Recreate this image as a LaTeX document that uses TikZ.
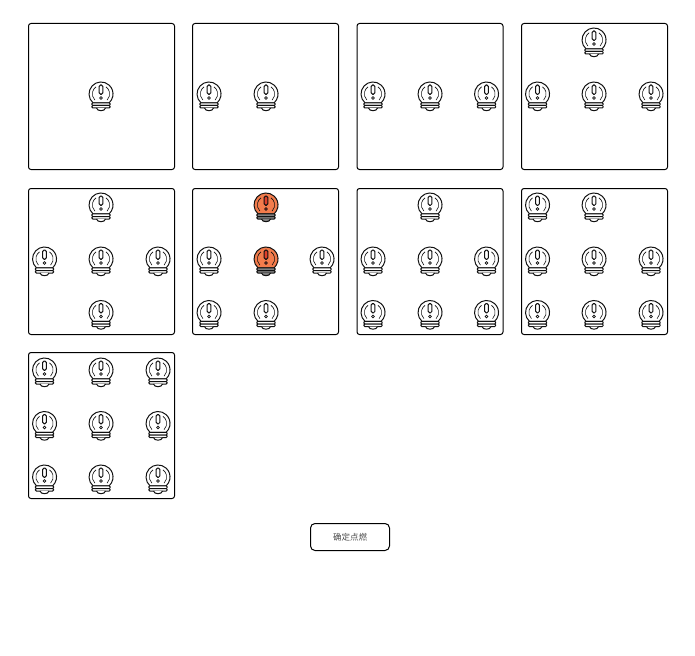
\documentclass[tikz,border=0pt]{standalone}
\usepackage{fontspec}
\newfontfamily\cjk{Noto Sans CJK SC}
\definecolor{lit}{HTML}{F37C4C}
\definecolor{mark}{HTML}{E0402A}
\definecolor{ink}{HTML}{111111}
\tikzset{
  x=1pt,y=-1pt,
  panel/.style={draw=black,line width=1pt,rounded corners=2.5pt,minimum width=146pt,minimum height=146pt,inner sep=0pt,outer sep=0pt,anchor=north west},
  actionbtn/.style={draw=black,line width=1pt,rounded corners=4.5pt,minimum width=79pt,minimum height=27pt,inner sep=0pt,outer sep=0pt,font=\cjk\fontsize{8.5}{9}\selectfont,text=black!70},
  bulbline/.style={draw=ink,line width=1pt},
  pics/bulb/.style n args={3}{code={
    \path[bulbline,fill=#1] (-8,8.9) arc[start angle=132,end angle=408,radius=12] -- cycle;
    \path[draw=ink,line width=.6pt] (-6.1,6.1) arc[start angle=135,end angle=235,radius=8.7];
    \path[draw=ink,line width=.6pt] (6.1,6.1) arc[start angle=45,end angle=-55,radius=8.7];
    \path[bulbline,rounded corners=1.5pt,line width=1pt,fill=#3] (-1.9,-9) rectangle (1.9,0.3);
    \path[bulbline,line width=.8pt,fill=#3] (0,4) circle (1.4);
    \path[bulbline,rounded corners=1pt,fill=#2] (-9.2,8.8) rectangle (9.2,11.5);
    \path[bulbline,rounded corners=1pt,fill=#2] (-9.2,11.5) rectangle (9.2,14);
    \path[bulbline,fill=#2] (-4.5,14) .. controls (-4,17.6) and (4,17.6) .. (4.5,14);
  }},
}
\newcommand{\offb}[1]{\pic at (#1) {bulb={white}{white}{white}};}
\newcommand{\onb}[1]{\pic at (#1) {bulb={lit}{black!50}{mark}};}
\begin{document}
\begin{tikzpicture}
\useasboundingbox (0,0) rectangle (695,655);
\fill[white] (0,0) rectangle (695,655);
% panels
\node[panel] (p1) at (28.5,23.5) {};
\node[panel] (p2) at (192.5,23.5) {};
\node[panel] (p3) at (357,23.5) {};
\node[panel] (p4) at (521.5,23.5) {};
\node[panel] (p5) at (28.5,188.5) {};
\node[panel] (p6) at (192.5,188.5) {};
\node[panel] (p7) at (357,188.5) {};
\node[panel] (p8) at (521.5,188.5) {};
\node[panel] (p9) at (28.5,352.5) {};
% row one
\offb{101,94}
\foreach \x in {209,266} {\offb{\x,94}}
\foreach \x in {373,430,486.5} {\offb{\x,94}}
\foreach \x in {537.5,594,651} {\offb{\x,94}}
\offb{594,40}
% row two
\offb{101,205}
\foreach \x in {44.5,101,158} {\offb{\x,259}}
\offb{101,312.5}
\onb{266,205}
\foreach \x in {209,322} {\offb{\x,259}}
\onb{266,259}
\foreach \x in {209,266} {\offb{\x,312.5}}
\offb{430,205}
\foreach \x in {373,430,486.5} {\offb{\x,259} \offb{\x,312.5}}
\foreach \x in {537.5,594} {\offb{\x,205}}
\foreach \x in {537.5,594,651} {\offb{\x,259} \offb{\x,312.5}}
% row three
\foreach \x in {44.5,101,158} {\offb{\x,370} \offb{\x,423.5} \offb{\x,477}}
% button
\node[actionbtn] (btn) at (350,537) {确定点燃};
\end{tikzpicture}
\end{document}
